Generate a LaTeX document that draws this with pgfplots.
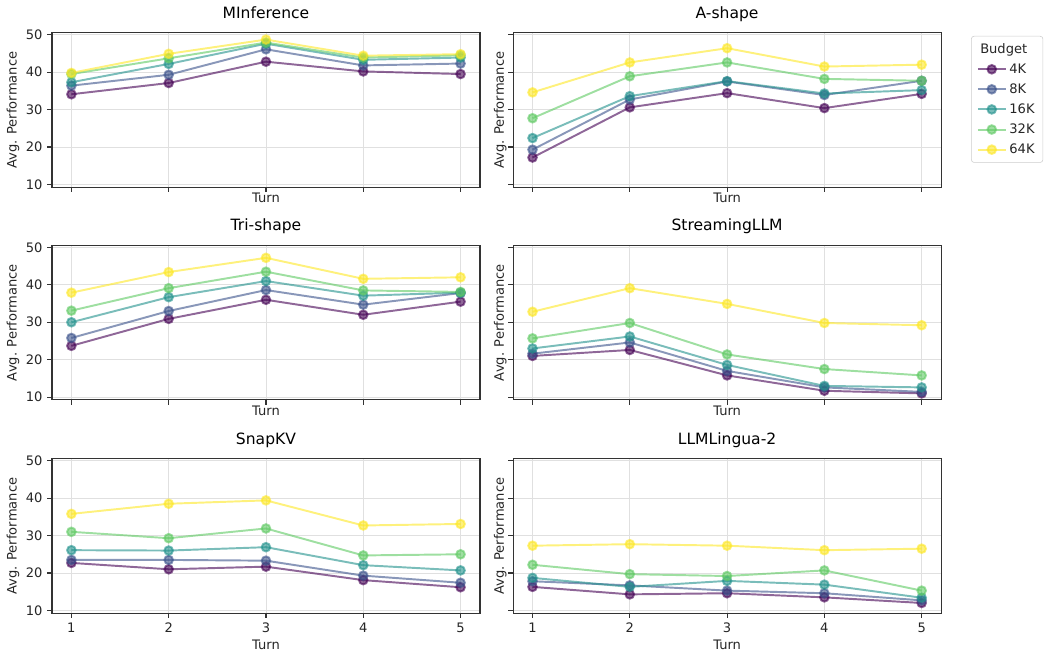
\documentclass[border=0pt]{standalone}
\usepackage{pgfplots}
\pgfplotsset{compat=1.18}
\usepackage{fontspec}
\setmainfont{DejaVu Sans}

\definecolor{vA}{HTML}{440154}
\definecolor{vB}{HTML}{3B528B}
\definecolor{vC}{HTML}{21918C}
\definecolor{vD}{HTML}{5EC962}
\definecolor{vE}{HTML}{FDE725}

\pgfplotsset{
  panel/.style={
    scale only axis, width=308.2pt, height=111.2pt,
    xmin=0.8, xmax=5.2, ymin=9.25, ymax=50.5,
    xtick={1,2,3,4,5}, ytick={10,20,30,40,50},
    tick align=outside, tick pos=left,
    major tick length=3.3pt,
    grid=major, grid style={black!12, line width=0.6pt},
    axis line style={black!80, line width=0.8pt},
    every tick/.style={black!80, line width=0.8pt},
    tick label style={font=\fontsize{9.4}{11}\selectfont, text=black!85},
    label style={font=\fontsize{9.4}{11}\selectfont, text=black!85},
    every axis title/.style={font=\fontsize{11.2}{13}\selectfont, at={(0.5,1)}, anchor=base, yshift=10.6pt, inner sep=0pt},
    /pgf/number format/assume math mode=true,
    xlabel={Turn}, ylabel={Avg. Performance},
    anchor=south west,
  },
  leftcol/.style={ylabel style={at={(-0.091,0.5)}, anchor=center}},
  rightcol/.style={yticklabels={}, ylabel style={at={(-0.03,0.5)}, anchor=center}},
  upper/.style={xticklabels={}, xlabel style={at={(0.5,0)}, anchor=north, yshift=-4pt, inner sep=0pt}},
  lower/.style={xlabel style={at={(0.5,0)}, anchor=north, yshift=-18.7pt, inner sep=0pt}},
  s/.style={color=#1, opacity=0.6, line width=1.4pt, mark=*, mark size=3.1pt, mark options={solid}},
}

\begin{document}
\begin{tikzpicture}
\useasboundingbox (0,0) rectangle (752.4pt,470.16pt);

% MInference
\begin{axis}[panel, leftcol, upper, at={(37.4pt,335.3pt)}, title={MInference}]
\addplot[s=vA] coordinates {(1,34.1) (2,37.1) (3,42.8) (4,40.2) (5,39.5)};
\addplot[s=vB] coordinates {(1,36.4) (2,39.3) (3,46.1) (4,41.8) (5,42.3)};
\addplot[s=vC] coordinates {(1,37.3) (2,42.2) (3,47.6) (4,43.3) (5,43.9)};
\addplot[s=vD] coordinates {(1,39.5) (2,43.7) (3,47.9) (4,43.9) (5,44.5)};
\addplot[s=vE] coordinates {(1,39.8) (2,44.9) (3,48.7) (4,44.4) (5,44.8)};
\end{axis}

% A-shape
\begin{axis}[panel, rightcol, upper, at={(369.4pt,335.3pt)}, title={A-shape},
  legend style={at={(1.070,0.98)}, anchor=north west, draw=black!20, rounded corners=2pt,
    fill=white, font=\fontsize{9.4}{11}\selectfont, text=black!85, row sep=2pt,
    inner xsep=4pt, inner ysep=3pt, cells={anchor=west}},
  legend image code/.code={\draw[mark repeat=2,mark phase=2,#1] plot coordinates {(0pt,0pt)(10pt,0pt)(20pt,0pt)};}]
\addlegendimage{empty legend}
\addlegendentry{\hspace*{-21pt}Budget}
\addplot[s=vA] coordinates {(1,17.2) (2,30.6) (3,34.4) (4,30.4) (5,34.2)};
\addlegendentry{4K}
\addplot[s=vB] coordinates {(1,19.3) (2,32.7) (3,37.5) (4,33.9) (5,37.7)};
\addlegendentry{8K}
\addplot[s=vC] coordinates {(1,22.4) (2,33.6) (3,37.6) (4,34.3) (5,35.2)};
\addlegendentry{16K}
\addplot[s=vD] coordinates {(1,27.7) (2,38.9) (3,42.6) (4,38.2) (5,37.7)};
\addlegendentry{32K}
\addplot[s=vE] coordinates {(1,34.6) (2,42.6) (3,46.4) (4,41.5) (5,42.0)};
\addlegendentry{64K}
\end{axis}

% Tri-shape
\begin{axis}[panel, leftcol, upper, at={(37.4pt,182.2pt)}, title={Tri-shape}]
\addplot[s=vA] coordinates {(1,23.7) (2,30.9) (3,36.0) (4,32.0) (5,35.5)};
\addplot[s=vB] coordinates {(1,25.8) (2,33.0) (3,38.6) (4,34.7) (5,37.8)};
\addplot[s=vC] coordinates {(1,30.0) (2,36.7) (3,41.0) (4,37.1) (5,37.9)};
\addplot[s=vD] coordinates {(1,33.1) (2,39.1) (3,43.5) (4,38.5) (5,38.1)};
\addplot[s=vE] coordinates {(1,37.9) (2,43.4) (3,47.2) (4,41.6) (5,42.0)};
\end{axis}

% StreamingLLM
\begin{axis}[panel, rightcol, upper, at={(369.4pt,182.2pt)}, title={StreamingLLM}]
\addplot[s=vA] coordinates {(1,21.0) (2,22.6) (3,15.8) (4,11.7) (5,11.0)};
\addplot[s=vB] coordinates {(1,21.6) (2,24.6) (3,17.0) (4,12.6) (5,11.4)};
\addplot[s=vC] coordinates {(1,23.0) (2,26.2) (3,18.6) (4,13.0) (5,12.6)};
\addplot[s=vD] coordinates {(1,25.7) (2,29.8) (3,21.4) (4,17.5) (5,15.8)};
\addplot[s=vE] coordinates {(1,32.8) (2,39.1) (3,34.9) (4,29.8) (5,29.2)};
\end{axis}

% SnapKV
\begin{axis}[panel, leftcol, lower, at={(37.4pt,28.6pt)}, title={SnapKV}]
\addplot[s=vA] coordinates {(1,22.7) (2,21.0) (3,21.7) (4,18.1) (5,16.2)};
\addplot[s=vB] coordinates {(1,23.5) (2,23.5) (3,23.3) (4,19.3) (5,17.4)};
\addplot[s=vC] coordinates {(1,26.1) (2,26.0) (3,26.9) (4,22.1) (5,20.7)};
\addplot[s=vD] coordinates {(1,31.0) (2,29.3) (3,31.9) (4,24.7) (5,25.0)};
\addplot[s=vE] coordinates {(1,35.8) (2,38.5) (3,39.4) (4,32.7) (5,33.1)};
\end{axis}

% LLMLingua-2
\begin{axis}[panel, rightcol, lower, at={(369.4pt,28.6pt)}, title={LLMLingua-2}]
\addplot[s=vA] coordinates {(1,16.3) (2,14.3) (3,14.6) (4,13.5) (5,12.0)};
\addplot[s=vB] coordinates {(1,17.8) (2,16.7) (3,15.3) (4,14.6) (5,12.7)};
\addplot[s=vC] coordinates {(1,18.7) (2,16.3) (3,17.9) (4,16.9) (5,13.4)};
\addplot[s=vD] coordinates {(1,22.2) (2,19.7) (3,19.2) (4,20.7) (5,15.3)};
\addplot[s=vE] coordinates {(1,27.3) (2,27.7) (3,27.3) (4,26.1) (5,26.5)};
\end{axis}
\end{tikzpicture}
\end{document}
